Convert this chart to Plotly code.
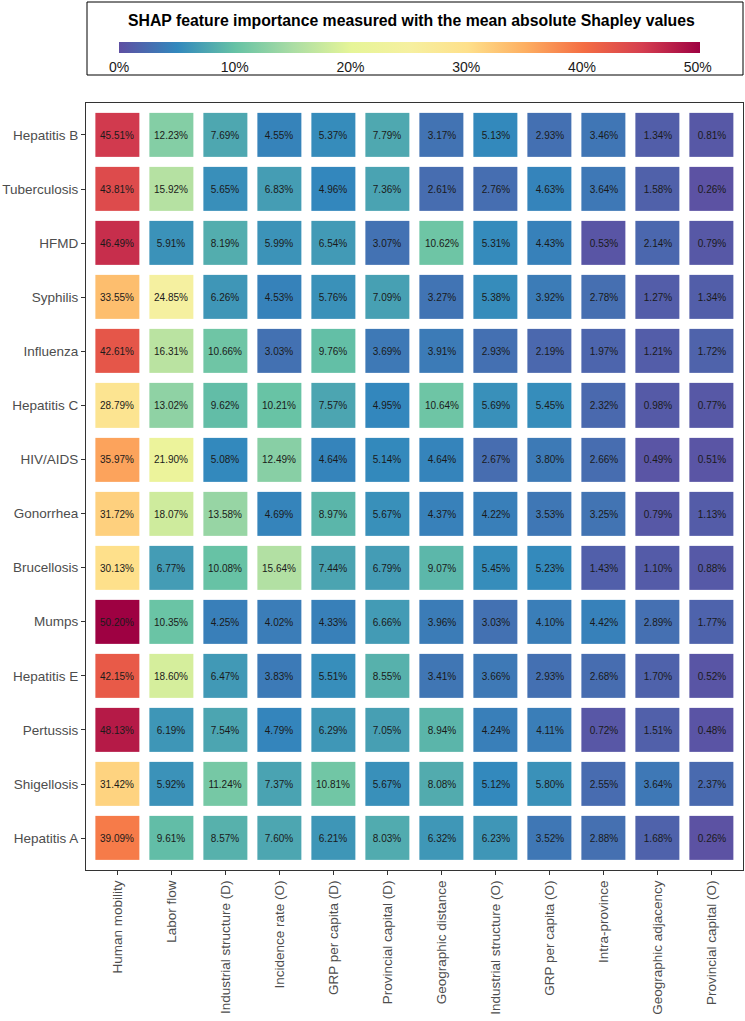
import plotly.graph_objects as go

features = ["Human mobility", "Labor flow", "Industrial structure (D)", "Incidence rate (O)",
            "GRP per capita (D)", "Provincial capital (D)", "Geographic distance",
            "Industrial structure (O)", "GRP per capita (O)", "Intra-province",
            "Geographic adjacency", "Provincial capital (O)"]

diseases = ["Hepatitis B", "Tuberculosis", "HFMD", "Syphilis", "Influenza", "Hepatitis C",
            "HIV/AIDS", "Gonorrhea", "Brucellosis", "Mumps", "Hepatitis E", "Pertussis",
            "Shigellosis", "Hepatitis A"]

hepatitis_b = [45.51, 12.23, 7.69, 4.55, 5.37, 7.79, 3.17, 5.13, 2.93, 3.46, 1.34, 0.81]
tuberculosis = [43.81, 15.92, 5.65, 6.83, 4.96, 7.36, 2.61, 2.76, 4.63, 3.64, 1.58, 0.26]
hfmd = [46.49, 5.91, 8.19, 5.99, 6.54, 3.07, 10.62, 5.31, 4.43, 0.53, 2.14, 0.79]
syphilis = [33.55, 24.85, 6.26, 4.53, 5.76, 7.09, 3.27, 5.38, 3.92, 2.78, 1.27, 1.34]
influenza = [42.61, 16.31, 10.66, 3.03, 9.76, 3.69, 3.91, 2.93, 2.19, 1.97, 1.21, 1.72]
hepatitis_c = [28.79, 13.02, 9.62, 10.21, 7.57, 4.95, 10.64, 5.69, 5.45, 2.32, 0.98, 0.77]
hiv_aids = [35.97, 21.90, 5.08, 12.49, 4.64, 5.14, 4.64, 2.67, 3.80, 2.66, 0.49, 0.51]
gonorrhea = [31.72, 18.07, 13.58, 4.69, 8.97, 5.67, 4.37, 4.22, 3.53, 3.25, 0.79, 1.13]
brucellosis = [30.13, 6.77, 10.08, 15.64, 7.44, 6.79, 9.07, 5.45, 5.23, 1.43, 1.10, 0.88]
mumps = [50.20, 10.35, 4.25, 4.02, 4.33, 6.66, 3.96, 3.03, 4.10, 4.42, 2.89, 1.77]
hepatitis_e = [42.15, 18.60, 6.47, 3.83, 5.51, 8.55, 3.41, 3.66, 2.93, 2.68, 1.70, 0.52]
pertussis = [48.13, 6.19, 7.54, 4.79, 6.29, 7.05, 8.94, 4.24, 4.11, 0.72, 1.51, 0.48]
shigellosis = [31.42, 5.92, 11.24, 7.37, 10.81, 5.67, 8.08, 5.12, 5.80, 2.55, 3.64, 2.37]
hepatitis_a = [39.09, 9.61, 8.57, 7.60, 6.21, 8.03, 6.32, 6.23, 3.52, 2.88, 1.68, 0.26]

z = [hepatitis_b, tuberculosis, hfmd, syphilis, influenza, hepatitis_c, hiv_aids,
     gonorrhea, brucellosis, mumps, hepatitis_e, pertussis, shigellosis, hepatitis_a]

cbar_ticks = [0, 10, 20, 30, 40, 50]
cbar_labels = ["0%", "10%", "20%", "30%", "40%", "50%"]

spectral_r = ["#5e4fa2", "#3288bd", "#66c2a5", "#abdda4", "#e6f598", "#f6f0a0",
              "#fee08b", "#fdae61", "#f46d43", "#d53e4f", "#9e0142"]
colorscale = [[i / (len(spectral_r) - 1), c] for i, c in enumerate(spectral_r)]

FONT = "Liberation Sans, Arial, sans-serif"
W, H = 745, 1021
L, R, T, B = 86, 2, 103, 151
pw, ph = W - L - R, H - T - B

def px_x(p):
    return (p - L) / pw

def px_y(p):
    return (H - B - p) / ph

fig = go.Figure(go.Heatmap(
    z=z,
    x=list(range(len(features))),
    y=list(range(len(diseases))),
    colorscale=colorscale,
    zmin=0, zmax=50.2,
    xgap=10, ygap=10,
    texttemplate="%{z:.2f}%",
    textfont=dict(size=10, color="#1a1a1a", family=FONT),
    hoverinfo="skip",
    colorbar=dict(
        orientation="h",
        xref="paper", yref="paper",
        x=px_x(409.5), xanchor="center",
        y=px_y(42), yanchor="top",
        len=581, lenmode="pixels",
        thickness=11, thicknessmode="pixels",
        xpad=0, ypad=0,
        outlinewidth=0,
        tickvals=cbar_ticks, ticktext=cbar_labels,
        ticks="outside", ticklen=3, tickcolor="rgba(255,255,255,0)",
        tickfont=dict(size=14, color="#1a1a1a", family=FONT),
    ),
))

fig.update_xaxes(
    range=[-0.58, len(features) - 0.42],
    tickmode="array", tickvals=list(range(len(features))), ticktext=features,
    tickangle=-90, ticks="outside", ticklen=4, tickcolor="#333333",
    tickfont=dict(size=13.5, color="#4d4d4d", family=FONT),
    showgrid=False, zeroline=False,
    showline=True, linecolor="#333333", linewidth=1, mirror=True,
)
fig.update_yaxes(
    range=[len(diseases) - 0.41, -0.59],
    tickmode="array", tickvals=list(range(len(diseases))), ticktext=diseases,
    ticks="outside", ticklen=4, tickcolor="#333333",
    tickfont=dict(size=13.5, color="#4d4d4d", family=FONT),
    showgrid=False, zeroline=False,
    showline=True, linecolor="#333333", linewidth=1, mirror=True,
)

fig.add_shape(type="rect", xref="paper", yref="paper",
              x0=px_x(87), x1=px_x(743), y0=px_y(75), y1=px_y(2),
              line=dict(color="#000000", width=1), fillcolor="rgba(0,0,0,0)")

fig.add_annotation(
    xref="paper", yref="paper", x=px_x(411), y=px_y(21),
    xanchor="center", yanchor="middle", showarrow=False,
    text="<b>SHAP feature importance measured with the mean absolute Shapley values</b>",
    font=dict(size=15.8, color="#000000", family=FONT),
)

fig.update_layout(
    width=W, height=H,
    margin=dict(l=L, r=R, t=T, b=B),
    paper_bgcolor="white", plot_bgcolor="white",
    font=dict(family=FONT),
)

fig.write_html("out.html", config={"displayModeBar": False},
               post_script="document.body.style.margin='0';")
